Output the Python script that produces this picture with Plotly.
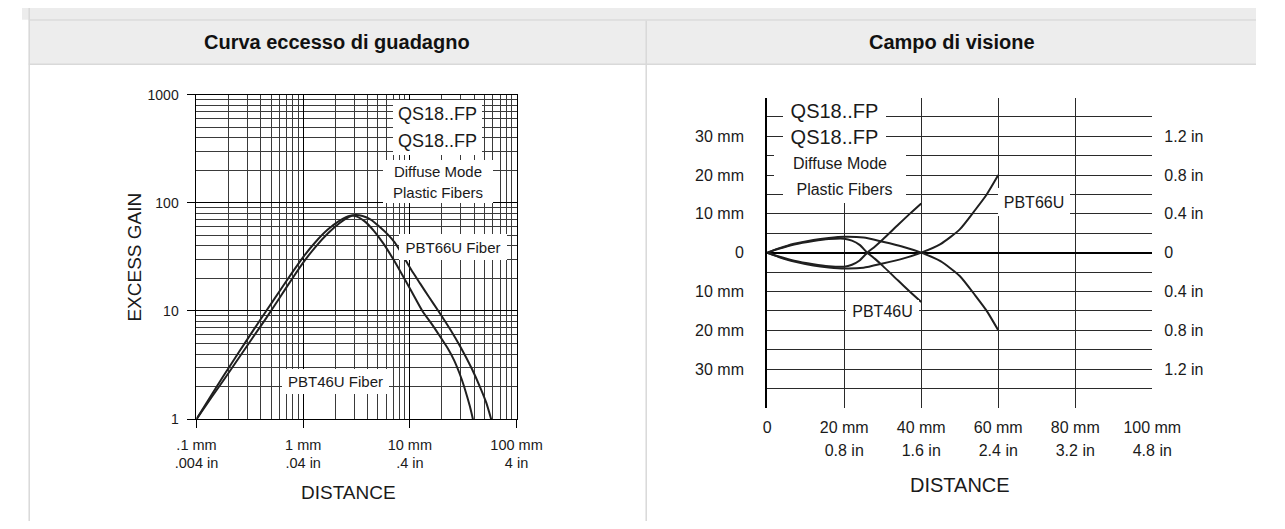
import math
import plotly.graph_objects as go

W, H = 1285, 529

# ---- Excess gain curves (distance in mm, excess gain) ----
pbt46u_dist = [0.1, 0.14, 0.18, 0.25, 0.35, 0.45, 0.6, 0.8, 1.0, 1.3, 1.7, 2.2, 2.76,
               3.2, 3.8, 4.6, 5.7, 7.0, 8.5, 10.5, 13.1, 16, 19, 22.7, 26, 29, 32, 34.5, 37, 39]
pbt46u_gain = [1.0, 1.71, 2.53, 4.17, 6.9, 10.0, 15.2, 23.1, 31.5, 43.2, 56.5, 68.5, 75.9,
               74.5, 67, 55, 41.5, 30, 21.5, 14.8, 10.0, 7.6, 5.9, 4.5, 3.5, 2.7, 2.05, 1.6, 1.25, 1.0]

pbt66u_dist = [0.1, 0.14, 0.18, 0.25, 0.35, 0.45, 0.6, 0.8, 1.0, 1.3, 1.7, 2.2, 2.7, 3.06,
               3.6, 4.3, 5.2, 6.2, 7.2, 8.1, 9.2, 10.3, 12.5, 15, 18.5, 24, 30, 38, 46, 52, 57.8]
pbt66u_gain = [1.0, 1.62, 2.3, 3.7, 6.0, 8.6, 13.2, 20.3, 28, 39, 52, 65, 74, 77,
               75.5, 70, 60, 51, 43, 36, 29, 24, 17.9, 13.6, 10, 6.7, 4.6, 2.94, 1.93, 1.42, 1.0]

gain_ticks = [1, 10, 100, 1000]
gain_minor = [v * d for d in (1, 10, 100) for v in range(2, 10)]
dist_ticks = [0.1, 1, 10, 100]
dist_minor = [v * d for d in (0.1, 1, 10) for v in range(2, 10)]
dist_mm_labels = [".1 mm", "1 mm", "10 mm", "100 mm"]
dist_in_labels = [".004 in", ".04 in", ".4 in", "4 in"]

# ---- Field of view: beam boundaries (distance mm, lateral offset mm) ----
fov46_x = [0, 3, 7, 12, 16, 20, 22, 24, 26, 28, 30, 34, 37, 40]
fov46_upper = [0, 1.0, 2.1, 3.0, 3.5, 3.6, 3.1, 2.0, 0.0, -1.6, -3.4, -7.2, -10.0, -12.7]
fov46_lower = [0, -1.0, -2.1, -3.0, -3.5, -3.6, -3.1, -2.0, 0.0, 1.6, 3.4, 7.2, 10.0, 12.7]

fov66_x = [0, 3, 7, 12, 16, 20, 25, 30, 35, 40, 45, 50, 54, 57, 60]
fov66_upper = [0, 1.1, 2.3, 3.3, 3.8, 4.1, 3.9, 2.8, 1.6, 0.0, -2.2, -6.0, -11.0, -15.0, -20.0]
fov66_lower = [0, -1.1, -2.3, -3.3, -3.8, -4.1, -3.9, -2.8, -1.6, 0.0, 2.2, 6.0, 11.0, 15.0, 20.0]

fov_x_ticks = [0, 20, 40, 60, 80, 100]
fov_x_mm = ["0", "20 mm", "40 mm", "60 mm", "80 mm", "100 mm"]
fov_x_in = ["", "0.8 in", "1.6 in", "2.4 in", "3.2 in", "4.8 in"]
fov_y_ticks = [-30, -20, -10, 0, 10, 20, 30]
fov_y_mm = ["30 mm", "20 mm", "10 mm", "0", "10 mm", "20 mm", "30 mm"]
fov_y_in = ["1.2 in", "0.8 in", "0.4 in", "0", "0.4 in", "0.8 in", "1.2 in"]
fov_y_minor = [-35, -25, -15, -5, 5, 15, 25, 35]

FONT = "Liberation Sans, Arial, Helvetica, sans-serif"
INK = "#1a1a1a"


def px_x(x):
    return x / W


def px_y(y):
    return 1 - y / H


fig = go.Figure()

curve = dict(color="#202020", width=2, shape="spline", smoothing=0.6)
fig.add_trace(go.Scatter(x=pbt46u_dist, y=pbt46u_gain, mode="lines", line=curve,
                         xaxis="x", yaxis="y", hoverinfo="skip"))
fig.add_trace(go.Scatter(x=pbt66u_dist, y=pbt66u_gain, mode="lines", line=curve,
                         xaxis="x", yaxis="y", hoverinfo="skip"))
for xs, ys in ((fov46_x, fov46_upper), (fov46_x, fov46_lower),
               (fov66_x, fov66_upper), (fov66_x, fov66_lower)):
    fig.add_trace(go.Scatter(x=xs, y=ys, mode="lines", line=curve,
                             xaxis="x2", yaxis="y2", hoverinfo="skip"))
# invisible helpers so the secondary label axes are drawn
fig.add_trace(go.Scatter(x=[1], y=[1], mode="markers", marker=dict(opacity=0),
                         xaxis="x3", yaxis="y", hoverinfo="skip"))
fig.add_trace(go.Scatter(x=[50], y=[0], mode="markers", marker=dict(opacity=0),
                         xaxis="x4", yaxis="y4", hoverinfo="skip"))

tick_font_l = dict(family=FONT, size=14.5, color=INK)
tick_font_r = dict(family=FONT, size=16, color=INK)

L0, L1, LT, LB = 181.7, 515.0, 89.3, 424.0
R0, R1, RT, RB = 776.0, 1177.0, 92.3, 412.3

fig.update_layout(
    width=W, height=H,
    margin=dict(l=0, r=0, t=0, b=0),
    paper_bgcolor="white", plot_bgcolor="white",
    showlegend=False,
    font=dict(family=FONT, color=INK),
    xaxis=dict(
        domain=[px_x(L0), px_x(L1)], anchor="y", type="log", range=[-1, 2],
        tickmode="array", tickvals=dist_ticks, ticktext=dist_mm_labels,
        ticks="outside", ticklen=8, tickwidth=1, tickcolor="#000",
        tickfont=tick_font_l, ticklabelstandoff=4,
        showgrid=True, gridcolor="#000", gridwidth=1,
        minor=dict(tickmode="array", tickvals=dist_minor, showgrid=True,
                   gridcolor="#3a3a3a", gridwidth=1, ticks=""),
        showline=True, mirror=True, linecolor="#000", linewidth=1,
        zeroline=False, fixedrange=True,
    ),
    xaxis3=dict(
        overlaying="x", anchor="y", type="log", range=[-1, 2], side="bottom",
        tickmode="array", tickvals=dist_ticks, ticktext=dist_in_labels,
        ticks="", tickfont=tick_font_l, ticklabelstandoff=33,
        showgrid=False, showline=False, zeroline=False, fixedrange=True,
    ),
    yaxis=dict(
        domain=[px_y(LB), px_y(LT)], anchor="x", type="log", range=[0, 3],
        tickmode="array", tickvals=gain_ticks, ticktext=[str(v) for v in gain_ticks],
        ticks="outside", ticklen=8, tickwidth=1, tickcolor="#000",
        tickfont=dict(family=FONT, size=14, color=INK), ticklabelstandoff=6,
        showgrid=True, gridcolor="#000", gridwidth=1,
        minor=dict(tickmode="array", tickvals=gain_minor, showgrid=True,
                   gridcolor="#3a3a3a", gridwidth=1, ticks=""),
        showline=True, mirror=True, linecolor="#000", linewidth=1,
        zeroline=False, fixedrange=True,
    ),
    xaxis2=dict(
        domain=[px_x(R0), px_x(R1)], anchor="y2", range=[0, 100],
        tickmode="array", tickvals=fov_x_ticks, ticktext=fov_x_mm,
        ticks="", tickfont=tick_font_r, ticklabelstandoff=8,
        showgrid=True, gridcolor="#2a2a2a", gridwidth=1,
        showline=False, zeroline=False, fixedrange=True,
    ),
    xaxis4=dict(
        overlaying="x2", anchor="y2", range=[0, 100], side="bottom",
        tickmode="array", tickvals=fov_x_ticks, ticktext=fov_x_in,
        ticks="", tickfont=tick_font_r, ticklabelstandoff=31,
        showgrid=False, showline=False, zeroline=False, fixedrange=True,
    ),
    yaxis2=dict(
        domain=[px_y(RB), px_y(RT)], anchor="x2", range=[-40, 40],
        tickmode="array", tickvals=fov_y_ticks, ticktext=fov_y_mm,
        ticks="", tickfont=tick_font_r, ticklabelstandoff=18,
        showgrid=True, gridcolor="#2a2a2a", gridwidth=1,
        minor=dict(tickmode="array", tickvals=fov_y_minor, showgrid=True,
                   gridcolor="#2a2a2a", gridwidth=1, ticks=""),
        zeroline=True, zerolinecolor="#000", zerolinewidth=2,
        showline=True, linecolor="#000", linewidth=2, fixedrange=True,
    ),
    yaxis4=dict(
        overlaying="y2", anchor="x2", side="right", range=[-40, 40],
        tickmode="array", tickvals=fov_y_ticks, ticktext=fov_y_in,
        ticks="", tickfont=tick_font_r, ticklabelstandoff=11,
        showgrid=False, showline=False, zeroline=False, fixedrange=True,
    ),
)

# ---- page frame: grey strip, header row, cell borders ----
BORDER = "#d9d9d9"
shapes = [
    dict(type="rect", xref="paper", yref="paper", x0=0, x1=1, y0=px_y(12), y1=1,
         fillcolor="#ececec", line=dict(width=0), layer="below"),
    dict(type="rect", xref="paper", yref="paper", x0=px_x(7), x1=1, y0=px_y(58), y1=px_y(13),
         fillcolor="#ededed", line=dict(width=0), layer="below"),
    dict(type="line", xref="paper", yref="paper", x0=px_x(7), x1=1, y0=px_y(12.5), y1=px_y(12.5),
         line=dict(color=BORDER, width=1.5)),
    dict(type="line", xref="paper", yref="paper", x0=px_x(7), x1=1, y0=px_y(58), y1=px_y(58),
         line=dict(color=BORDER, width=1.5)),
    dict(type="line", xref="paper", yref="paper", x0=px_x(7.5), x1=px_x(7.5), y0=0, y1=1,
         line=dict(color=BORDER, width=1.5)),
    dict(type="line", xref="paper", yref="paper", x0=px_x(650), x1=px_x(650), y0=0, y1=px_y(13),
         line=dict(color=BORDER, width=1.5)),
]
fig.update_layout(shapes=shapes)


def page_text(text, x, y, size, angle=0, color=INK):
    return dict(text=text, x=px_x(x), y=px_y(y), xref="paper", yref="paper",
                xanchor="center", yanchor="middle", textangle=angle, showarrow=False,
                font=dict(family=FONT, size=size, color=color))


ann = []
# header row
ann.append(page_text("<b>Curva eccesso di guadagno</b>", 328.5, 35, 20, color="#111"))
ann.append(page_text("<b>Campo di visione</b>", 968, 35, 20, color="#111"))
# axis titles
ann.append(page_text("EXCESS GAIN", 117, 257, 19, angle=-90))
ann.append(page_text("DISTANCE", 340, 500, 19))
ann.append(page_text("DISTANCE", 976.5, 492, 20))


def box_label(text, x, y, xref, yref, size, w, h):
    return dict(text=text, x=x, y=y, xref=xref, yref=yref, showarrow=False,
                xanchor="center", yanchor="middle",
                width=w, height=h, bgcolor="white", borderpad=0, borderwidth=0,
                align="center", valign="middle",
                font=dict(family=FONT, size=size, color=INK))


lg = math.log10
# excess gain chart labels (log axes take log10 positions)
ann.append(box_label("QS18..FP", lg(18.1), lg(665), "x", "y", 18, 89, 28))
ann.append(box_label("QS18..FP", lg(18.1), lg(373), "x", "y", 18, 89, 28))
ann.append(box_label("Diffuse Mode", lg(18.3), lg(197), "x", "y", 15, 110, 22))
ann.append(box_label("Plastic Fibers", lg(18.3), lg(125), "x", "y", 15, 110, 22))
ann.append(box_label("PBT66U Fiber", lg(25.5), lg(39.4), "x", "y", 15, 108, 26))
ann.append(box_label("PBT46U Fiber", lg(2.01), lg(2.21), "x", "y", 15, 107, 25))

# field of view labels
ann.append(box_label("QS18..FP", 17.6, 36.6, "x2", "y2", 20, 103, 26))
ann.append(box_label("QS18..FP", 17.6, 29.8, "x2", "y2", 20, 103, 26))
ann.append(box_label("Diffuse Mode", 19.0, 23.1, "x2", "y2", 16, 132, 28))
ann.append(box_label("Plastic Fibers", 20.1, 16.3, "x2", "y2", 16, 123, 28))
ann.append(box_label("PBT66U", 69.3, 13.1, "x2", "y2", 16, 72, 28))
ann.append(box_label("PBT46U", 30.0, -15.0, "x2", "y2", 16, 73, 22))

fig.update_layout(annotations=ann)

# the figure fills the whole page, so drop the default body margin
fig.write_html("out.html",
               post_script="document.body.style.margin='0';document.body.style.overflow='hidden';")
